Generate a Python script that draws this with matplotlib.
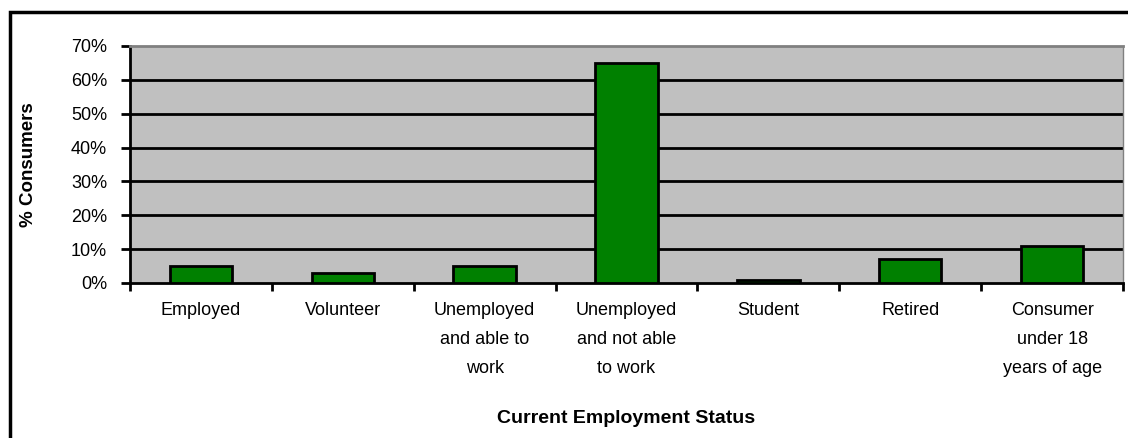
import numpy as np
import matplotlib
matplotlib.use('Agg')
import matplotlib.pyplot as plt
from matplotlib.patches import Rectangle

plt.rcParams['font.family'] = ['Liberation Sans', 'DejaVu Sans']

categories = ["Employed", "Volunteer", "Unemployed\nand able to\nwork",
              "Unemployed\nand not able\nto work", "Student", "Retired",
              "Consumer\nunder 18\nyears of age"]
percent = [5, 3, 5, 65, 1, 7, 11]
yticks = [0, 10, 20, 30, 40, 50, 60, 70]

fig = plt.figure(figsize=(11.28, 4.38), dpi=100)
ax = fig.add_axes([0.1152, 0.354, 0.8804, 0.541])
ax.set_facecolor('#c0c0c0')

x = np.arange(len(categories))
ax.bar(x, percent, width=0.44, color='#008000', edgecolor='black', linewidth=2, zorder=3)

ax.set_xlim(-0.5, len(categories) - 0.5)
ax.set_ylim(0, 70)
ax.set_yticks(yticks)
ax.set_yticklabels(["%d%%" % v for v in yticks], fontsize=13)
for v in yticks[1:-1]:
    ax.axhline(v, color='black', linewidth=2, zorder=2)

ax.set_xticks(x)
ax.set_xticklabels(categories, fontsize=13, linespacing=1.93, va='top')
ax.tick_params(axis='x', length=0, pad=13.5)
# category boundary ticks
ax.set_xticks(np.arange(len(categories) + 1) - 0.5, minor=True)
ax.tick_params(axis='x', which='minor', length=6, width=2, direction='out')
ax.tick_params(axis='y', length=6.5, width=2, direction='out', pad=10)

for s in ['left', 'bottom']:
    ax.spines[s].set_linewidth(2)
    ax.spines[s].set_color('black')
ax.spines['top'].set_color('#808080')
ax.spines['top'].set_linewidth(2)
ax.spines['right'].set_color('#808080')
ax.spines['right'].set_linewidth(1)

ax.set_ylabel("% Consumers", fontsize=13.5, fontweight='bold')
ax.yaxis.set_label_coords(-0.0935, 0.5)
fig.text(0.555, 0.045, "Current Employment Status", fontsize=14, fontweight='bold',
         ha='center', va='center')

# outer chart frame
fig.patches.append(Rectangle((10 / 1128, -0.05), 1.2, 1 - 12 / 438 + 0.05,
                             transform=fig.transFigure, fill=False,
                             edgecolor='black', linewidth=2.5))

fig.savefig('out.png', dpi=100)
